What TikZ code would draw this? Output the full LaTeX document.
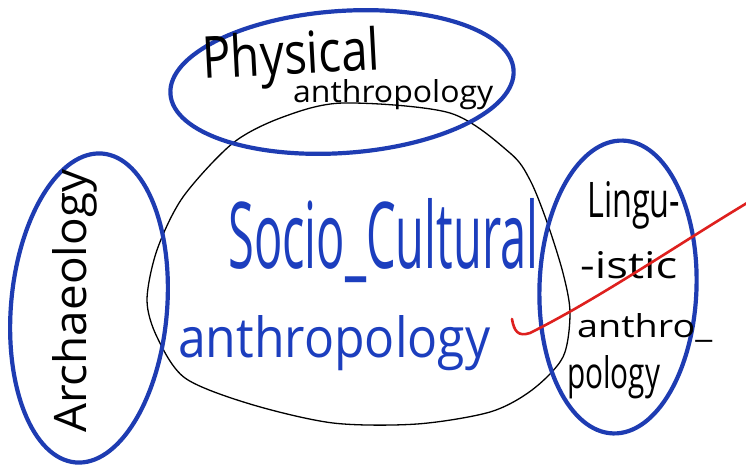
\documentclass[tikz,border=0pt]{standalone}
\usepackage{fontspec}
\setmainfont{Open Sans}
\usepackage{graphicx}
\usetikzlibrary{shapes.geometric}
\definecolor{bluepen}{RGB}{30,60,178}
\definecolor{bluetext}{RGB}{28,62,190}
\definecolor{redpen}{RGB}{222,32,30}
\newcommand{\fitbox}[3]{\resizebox{#1pt}{#2pt}{#3}}
\tikzset{
  blueoval/.style={ellipse, draw=bluepen, line width=4.2pt, inner sep=0pt},
  hwtext/.style={inner sep=0pt, anchor=base west, text=black},
  bigtext/.style={inner sep=0pt, anchor=base west, text=bluetext},
  blobline/.style={draw=black, line width=1.3pt},
  redstroke/.style={draw=redpen, line width=2.6pt, line cap=round}
}
\begin{document}
\begin{tikzpicture}[x=1pt,y=-1pt]
\useasboundingbox[fill=white] (0,0) rectangle (746,466);

% central black blob
\draw[blobline] plot[smooth cycle] coordinates {
 (343,103) (450,113) (510,153) (530,180) (547,222) (563,273) (570,313)
 (563,357) (532,390) (490,412) (417,424) (333,423) (250,404) (185,378)
 (157,337) (147,300) (157,250) (183,197) (233,143) (283,117)};

% blue ovals
\node[blueoval, minimum width=344pt, minimum height=142pt, rotate=4] (phys) at (342,82) {};
\node[blueoval, minimum width=156pt, minimum height=310pt, rotate=-5] (arch) at (89,308) {};
\node[blueoval, minimum width=157pt, minimum height=293pt, rotate=-2] (ling) at (618,287) {};

% texts
\node[hwtext, rotate=3] (physA) at (203,79) {\fitbox{178}{44}{Physical}};
\node[hwtext] (physB) at (293,102) {\fitbox{200}{23}{anthropology}};

\node[bigtext] (socio) at (228,268) {\fitbox{310}{70}{Socio\_Cultural}};
\node[bigtext] (anthro) at (178,357) {\fitbox{312}{42}{anthropology}};

\node[hwtext, rotate=90] (archT) at (86,433) {\fitbox{263}{34}{Archaeology}};

\node[hwtext] (lingA) at (587,217) {\fitbox{93}{36}{Lingu-}};
\node[hwtext] (lingB) at (580,278) {\fitbox{97}{27}{-istic}};
\node[hwtext] (lingC) at (577,337) {\fitbox{135}{24}{anthro\_}};
\node[hwtext] (lingD) at (567,388) {\fitbox{93}{33}{pology}};

% red stroke
\coordinate (rs) at (512,319);
\coordinate (rh) at (530,333);
\coordinate (re) at (752,200);
\draw[redstroke] (rs) .. controls (514,331) and (518,337) .. (rh)
  .. controls (600,298) and (680,243) .. (re);
\end{tikzpicture}
\end{document}
